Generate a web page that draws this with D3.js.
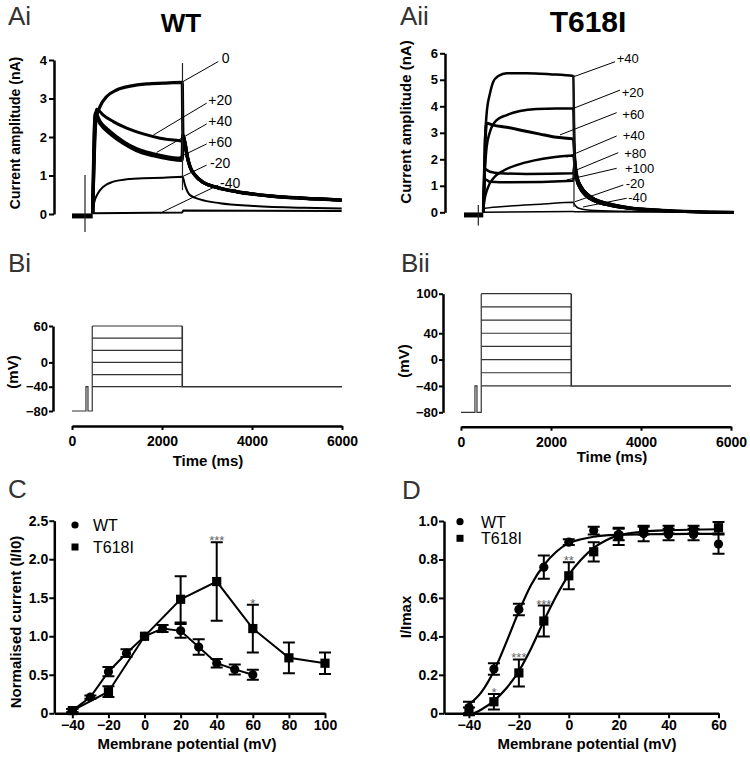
<!DOCTYPE html>
<html>
<head>
<meta charset="utf-8">
<script src="https://cdn.jsdelivr.net/npm/d3@7"></script>
<style>
body { margin: 0; background: #fff; }
svg { font-family: "Liberation Sans", Arial, sans-serif; }
</style>
</head>
<body>
<script>
// ---------------- data ----------------
// A: current traces, points are [time (ms), current (nA)]
var labelsAi = ["0", "+20", "+40", "+60", "-20", "-40"];
var tr0Ai   = [[460,0.02],[533,2.44],[622,2.79],[771,3.05],[993,3.22],[1289,3.32],[1660,3.38],[2029,3.40],[2450,3.42]];
var tr20Ai  = [[460,0.02],[530,2.62],[549,2.72],[584,2.70],[696,2.57],[918,2.40],[1215,2.23],[1585,2.08],[1956,1.97],[2400,1.90],[2450,1.89]];
var tr40Ai  = [[460,0.02],[520,2.62],[622,2.40],[844,2.14],[1140,1.88],[1437,1.69],[1807,1.56],[2178,1.47],[2450,1.44]];
var tr60Ai  = [[460,0.02],[515,2.55],[622,2.34],[844,2.08],[1140,1.83],[1437,1.64],[1807,1.51],[2178,1.42],[2450,1.39]];
var trm20Ai = [[460,0.02],[489,0.28],[578,0.54],[696,0.71],[918,0.84],[1215,0.90],[1585,0.93],[2029,0.94],[2450,0.97]];
var trm40Ai = [[460,0.02],[2450,0.04]];
var tailBigAi = [[2465,2.05],[2511,1.84],[2562,1.49],[2622,1.23],[2733,1.01],[2918,0.82],[3216,0.69],[3660,0.58],[4400,0.47],[5140,0.41],[5993,0.36]];
var tailMidAi = [[2465,0.95],[2511,0.75],[2622,0.49],[2844,0.38],[3289,0.28],[4029,0.21],[5140,0.16],[5993,0.14]];
var tailLowAi = [[2470,0.09],[5993,0.08]];
var holdAi = [[0,-0.05],[460,-0.05]];
var artAi = [[[289,1.01],[289,-0.47]], [[2455,3.92],[2455,0.62]]];
// label text position, pointer start, pointer end
var annTextAi = [[3327,3.91],[3029,2.83],[3029,2.29],[3029,1.75],[3067,1.19],[3289,0.67]];
var annFromAi = [[3251,3.96],[2993,2.88],[2993,2.34],[2993,1.82],[2993,1.27],[3251,0.75]];
var annToAi   = [[2438,3.42],[1807,2.05],[1882,1.60],[2251,1.40],[2400,0.94],[1956,0.02]];

var labelsAii = ["+40", "+20", "+60", "+40", "+80", "+100", "-20", "-40"];
var tr40Aii  = [[429,0],[467,2.73],[504,3.74],[578,4.49],[651,4.93],[762,5.14],[949,5.25],[1393,5.25],[1911,5.21],[2429,5.14]];
var tr20Aii  = [[429,0],[460,1.4],[504,2.48],[578,3.04],[726,3.48],[949,3.67],[1244,3.82],[1615,3.90],[2059,3.92],[2429,3.92]];
var tr60Aii  = [[429,0],[470,2.6],[504,3.36],[651,3.29],[949,3.21],[1318,3.08],[1689,2.95],[2059,2.83],[2429,2.77]];
var tr40bAii = [[429,0],[444,0.34],[540,0.97],[651,1.28],[874,1.57],[1170,1.78],[1540,1.95],[1985,2.08],[2429,2.14]];
var tr80Aii  = [[429,0],[467,1.62],[578,1.53],[800,1.47],[1393,1.45],[2429,1.47]];
var tr100Aii = [[429,0],[467,1.25],[578,1.15],[1022,1.13],[2429,1.19]];
var trm20Aii = [[429,0],[467,0.15],[1022,0.24],[1762,0.31],[2429,0.38]];
var trm40Aii = [[429,0],[2429,0.03]];
var tailHiAii = [[2455,2.2],[2480,1.7],[2520,1.3],[2600,0.98],[2720,0.72],[2900,0.5],[3200,0.33],[3650,0.18],[4400,0.08],[5100,0.03],[6000,0.0]];
var tailLoAii = [[2455,1.8],[2467,1.6],[2504,1.22],[2578,0.9],[2689,0.65],[2873,0.44],[3171,0.28],[3615,0.15],[4356,0.06],[5096,0.01],[6000,-0.01]];
var tailSmAii = [[2455,0.3],[2550,0.15],[2800,0.08],[3500,0.04],[6000,0.0]];
var tailFlatAii = [[2455,0.02],[6000,0.0]];
var holdAii = [[0,-0.1],[429,-0.1]];
var artAii = [[[318,0.28],[318,-0.5]], [[2444,5.18],[2444,0.2]]];
var annTextAii = [[3393,5.62],[3504,4.34],[3518,3.52],[3527,2.73],[3562,2.06],[3578,1.47],[3593,0.91],[3651,0.40]];
var annFromAii = [[3356,5.68],[3467,4.61],[3393,3.76],[3393,2.88],[3429,2.25],[3393,1.66],[3540,1.03],[3616,0.53]];
var annToAii   = [[2444,5.12],[2429,3.92],[2133,2.92],[2282,2.08],[2504,1.60],[2282,1.22],[2467,0.40],[2644,0.20]];

// B: voltage protocol (mV), times in ms
var stepsBi  = [-40, -20, 0, 20, 40, 60];
var stepsBii = [-40, -20, 0, 20, 40, 60, 80, 100];
var protoT = [0, 310, 355, 450, 2450, 6000]; // start, prepulse on, prepulse off, step on, step off, end
var holdV = -80, prepulseV = -40, tailV = -40;
var ticksBi = [60, 0, -40, -80];
var ticksBii = [100, 40, 0, -40, -80];
var ticksTime = [0, 2000, 4000, 6000];

// C: normalised current vs membrane potential
var vC_WT = [-40, -30, -20, -10, 0, 10, 20, 30, 40, 50, 60];
var iC_WT = [0.035, 0.21, 0.54, 0.78, 1.00, 1.10, 1.07, 0.86, 0.65, 0.57, 0.50];
var eC_WT = [0.02, 0.02, 0.06, 0.05, 0, 0.045, 0.09, 0.10, 0.055, 0.065, 0.065];
var vC_T = [-40, -20, 0, 20, 40, 60, 80, 100];
var iC_T = [0.035, 0.28, 1.00, 1.48, 1.71, 1.10, 0.72, 0.65];
var eC_T = [0.02, 0.07, 0, 0.30, 0.51, 0.31, 0.20, 0.14];
var starsC = [[40, "***"], [60, "*"]];

// D: activation, I/Imax
var vD = [-40, -30, -20, -10, 0, 10, 20, 30, 40, 50, 60];
var iD_WT = [0.03, 0.23, 0.54, 0.76, 0.89, 0.95, 0.93, 0.935, 0.93, 0.93, 0.88];
var eD_WT = [0.03, 0.03, 0.03, 0.06, 0.015, 0.02, 0.03, 0.04, 0.03, 0.03, 0.05];
var iD_T = [0.01, 0.06, 0.21, 0.48, 0.715, 0.84, 0.92, 0.95, 0.955, 0.955, 0.965];
var eD_T = [0.02, 0.04, 0.07, 0.08, 0.07, 0.05, 0.045, 0.02, 0.02, 0.02, 0.03];
var fitD_WT = [[-40,0.045],[-35,0.11],[-30,0.22],[-25,0.37],[-20,0.53],[-15,0.67],[-10,0.77],[-5,0.84],[0,0.885],[5,0.905],[10,0.918],[20,0.928],[30,0.931],[40,0.932],[60,0.933]];
var fitD_T = [[-38,0.0],[-35,0.02],[-30,0.065],[-25,0.13],[-20,0.22],[-15,0.34],[-10,0.48],[-5,0.61],[0,0.72],[5,0.80],[10,0.86],[15,0.90],[20,0.925],[30,0.945],[40,0.952],[60,0.957]];
var starsD = [[-30, "*"], [-20, "***"], [-10, "***"], [0, "**"]];

// ---------------- drawing ----------------
var svg = d3.select("body").append("svg")
  .attr("width", 750)
  .attr("height", 762);

function styleAxis(g, fs) {
  g.attr("font-family", null).attr("font-size", null);
  g.select(".domain").attr("stroke", "#000").attr("stroke-width", 2.5);
  g.selectAll(".tick line").attr("stroke", "#000").attr("stroke-width", 2);
  g.selectAll(".tick text")
    .attr("font-size", fs)
    .attr("font-weight", "bold")
    .attr("fill", "#000");
}

function panelLabel(txt, x, y) {
  svg.append("text").attr("x", x).attr("y", y)
    .attr("font-size", 26).attr("fill", "#333").text(txt);
}

function yTitle(txt, x, y, fs) {
  svg.append("text")
    .attr("transform", "translate(" + x + "," + y + ")rotate(-90)")
    .attr("text-anchor", "middle")
    .attr("font-size", fs).attr("font-weight", "bold")
    .text(txt);
}

function xTitle(txt, x, y, fs) {
  svg.append("text").attr("x", x).attr("y", y)
    .attr("text-anchor", "middle")
    .attr("font-size", fs).attr("font-weight", "bold")
    .text(txt);
}

// ---- panel A: traces ----
function tracePanel(x, y, traces, hold, arts, labels, annText, annFrom, annTo, fs) {
  var line = d3.line()
    .x(function(d) { return x(d[0]); })
    .y(function(d) { return y(d[1]); })
    .curve(d3.curveMonotoneX);
  var g = svg.append("g");
  g.append("path").datum(hold).attr("d", line)
    .attr("fill", "none").attr("stroke", "#000").attr("stroke-width", 5);
  traces.forEach(function(t) {
    g.append("path").datum(t.pts.concat(t.tail)).attr("d", line)
      .attr("fill", "none").attr("stroke", "#000")
      .attr("stroke-width", t.w).attr("stroke-linejoin", "round");
  });
  arts.forEach(function(a) {
    g.append("path").datum(a).attr("d", d3.line().x(function(d) { return x(d[0]); }).y(function(d) { return y(d[1]); }))
      .attr("stroke", "#222").attr("stroke-width", 1.2);
  });
  labels.forEach(function(l, i) {
    g.append("line")
      .attr("x1", x(annFrom[i][0])).attr("y1", y(annFrom[i][1]))
      .attr("x2", x(annTo[i][0])).attr("y2", y(annTo[i][1]))
      .attr("stroke", "#000").attr("stroke-width", 1);
    g.append("text")
      .attr("x", x(annText[i][0])).attr("y", y(annText[i][1]))
      .attr("font-size", fs).text(l);
  });
}

var xAi = d3.scaleLinear().domain([0, 6000]).range([72, 342]);
var yAi = d3.scaleLinear().domain([0, 4]).range([214, 60]);
tracePanel(xAi, yAi, [
  {pts: trm40Ai, tail: tailLowAi, w: 2},
  {pts: trm20Ai, tail: tailMidAi, w: 2},
  {pts: tr60Ai, tail: tailBigAi, w: 3},
  {pts: tr40Ai, tail: tailBigAi, w: 3.5},
  {pts: tr20Ai, tail: tailBigAi, w: 3},
  {pts: tr0Ai, tail: tailBigAi, w: 3.2}
], holdAi, artAi, labelsAi, annTextAi, annFromAi, annToAi, 14);
svg.append("g").attr("transform", "translate(54,0)")
  .call(d3.axisLeft(yAi).tickValues([0, 1, 2, 3, 4]).tickFormat(d3.format("d")).tickSize(5).tickSizeOuter(0).tickPadding(2))
  .call(styleAxis, 13);
yTitle("Current amplitude (nA)", 20, 133, 14);

var xAii = d3.scaleLinear().domain([0, 6000]).range([464, 734]);
var yAii = d3.scaleLinear().domain([0, 6]).range([212.3, 53.3]);
tracePanel(xAii, yAii, [
  {pts: trm40Aii, tail: tailFlatAii, w: 1.5},
  {pts: trm20Aii, tail: tailSmAii, w: 1.5},
  {pts: tr100Aii, tail: tailLoAii, w: 2.5},
  {pts: tr80Aii, tail: tailLoAii, w: 2.5},
  {pts: tr40bAii, tail: tailLoAii, w: 2.5},
  {pts: tr60Aii, tail: tailHiAii, w: 3},
  {pts: tr20Aii, tail: tailHiAii, w: 2.5},
  {pts: tr40Aii, tail: tailHiAii, w: 2.5}
], holdAii, artAii, labelsAii, annTextAii, annFromAii, annToAii, 13);
svg.append("g").attr("transform", "translate(445,0)")
  .call(d3.axisLeft(yAii).tickValues([0, 1, 2, 3, 4, 5, 6]).tickFormat(d3.format("d")).tickSize(5).tickSizeOuter(0).tickPadding(2))
  .call(styleAxis, 13);
yTitle("Current amplitude (nA)", 411, 122, 15);

panelLabel("Ai", 8, 25);
panelLabel("Aii", 400, 25);
svg.append("text").attr("x", 181).attr("y", 32).attr("text-anchor", "middle")
  .attr("font-size", 26).attr("font-weight", "bold").text("WT");
svg.append("text").attr("x", 588).attr("y", 32).attr("text-anchor", "middle")
  .attr("font-size", 30).attr("font-weight", "bold").text("T618I");

// ---- panel B: protocol ----
function protoPanel(x, y, steps, ticks, axisX, xAxisY) {
  var line = d3.line().x(function(d) { return x(d[0]); }).y(function(d) { return y(d[1]); });
  var top = d3.max(steps);
  var g = svg.append("g").attr("fill", "none").attr("stroke", "#333").attr("stroke-width", 1.2);
  g.append("path").datum([
    [protoT[0], holdV], [protoT[1], holdV], [protoT[1], prepulseV], [protoT[2], prepulseV],
    [protoT[2], holdV], [protoT[3], holdV], [protoT[3], top]
  ]).attr("d", line);
  steps.forEach(function(v) {
    g.append("path").datum([[protoT[3], v], [protoT[4], v]]).attr("d", line);
  });
  g.append("path").datum([[protoT[4], top], [protoT[4], tailV], [protoT[5], tailV]])
    .attr("d", line).attr("stroke-width", 1.6);

  svg.append("g").attr("transform", "translate(" + axisX + ",0)")
    .call(d3.axisLeft(y).tickValues(ticks).tickFormat(d3.format("d")).tickSize(4).tickSizeOuter(0).tickPadding(1))
    .call(styleAxis, 13);
  svg.append("g").attr("transform", "translate(0," + xAxisY + ")")
    .call(d3.axisBottom(x).tickValues(ticksTime).tickFormat(d3.format("d")).tickSize(4).tickSizeOuter(0).tickPadding(6))
    .call(styleAxis, 14);
}

var xBi = d3.scaleLinear().domain([0, 6000]).range([72, 342]);
var yBi = d3.scaleLinear().domain([-80, 60]).range([411, 326]);
protoPanel(xBi, yBi, stepsBi, ticksBi, 53, 426);
yTitle("(mV)", 18, 372, 15);
xTitle("Time (ms)", 208, 466, 15);
panelLabel("Bi", 8, 272);

var xBii = d3.scaleLinear().domain([0, 6000]).range([461, 731]);
var yBii = d3.scaleLinear().domain([-80, 100]).range([412.3, 293.7]);
protoPanel(xBii, yBii, stepsBii, ticksBii, 443, 426.7);
yTitle("(mV)", 409, 361, 15);
xTitle("Time (ms)", 612, 462, 15);
panelLabel("Bii", 401, 272);

// ---- panels C and D: summary plots ----
function drawSeries(g, x, y, vs, is, es, shape, connect) {
  if (connect) {
    g.append("path").datum(vs.map(function(v, i) { return [v, is[i]]; }))
      .attr("d", d3.line().x(function(d) { return x(d[0]); }).y(function(d) { return y(d[1]); }))
      .attr("fill", "none").attr("stroke", "#000").attr("stroke-width", 2);
  }
  vs.forEach(function(v, i) {
    if (es[i] > 0) {
      var cx = x(v), y1 = y(is[i] + es[i]), y2 = y(is[i] - es[i]);
      g.append("path")
        .attr("d", "M" + cx + "," + y1 + "V" + y2 + "M" + (cx - 6) + "," + y1 + "H" + (cx + 6) + "M" + (cx - 6) + "," + y2 + "H" + (cx + 6))
        .attr("stroke", "#000").attr("stroke-width", 2).attr("fill", "none");
    }
  });
  vs.forEach(function(v, i) {
    if (shape === "circle") {
      g.append("circle").attr("cx", x(v)).attr("cy", y(is[i])).attr("r", 4.6).attr("fill", "#000");
    } else {
      g.append("rect").attr("x", x(v) - 4.6).attr("y", y(is[i]) - 4.6)
        .attr("width", 9.2).attr("height", 9.2).attr("fill", "#000");
    }
  });
}

function legend(x, y1, y2, tx) {
  svg.append("circle").attr("cx", x).attr("cy", y1).attr("r", 3.6).attr("fill", "#000");
  svg.append("rect").attr("x", x - 3.5).attr("y", y2 - 3.5).attr("width", 7).attr("height", 7).attr("fill", "#000");
  svg.append("text").attr("x", tx).attr("y", y1 + 6).attr("font-size", 16).text("WT");
  svg.append("text").attr("x", tx).attr("y", y2 + 6).attr("font-size", 16).text("T618I");
}

function stars(g, x, y, list, vs, is, es) {
  list.forEach(function(s) {
    var i = vs.indexOf(s[0]);
    g.append("text").attr("x", x(s[0])).attr("y", y(is[i] + es[i]) + 3)
      .attr("text-anchor", "middle").attr("font-size", 13).attr("fill", "#666").text(s[1]);
  });
}

// C
var xC = d3.scaleLinear().domain([-50, 100]).range([54.3, 325]);
var yC = d3.scaleLinear().domain([0, 2.5]).range([713.3, 520.7]);
var gC = svg.append("g");
drawSeries(gC, xC, yC, vC_WT, iC_WT, eC_WT, "circle", true);
drawSeries(gC, xC, yC, vC_T, iC_T, eC_T, "square", true);
stars(gC, xC, yC, starsC, vC_T, iC_T, eC_T);
svg.append("g").attr("transform", "translate(54.3,0)")
  .call(d3.axisLeft(yC).tickValues([0, 0.5, 1, 1.5, 2, 2.5])
    .tickFormat(function(d) { return d === 0 ? "0" : d3.format(".1f")(d); })
    .tickSize(5).tickSizeOuter(0).tickPadding(1))
  .call(styleAxis, 14);
svg.append("g").attr("transform", "translate(0,713.3)")
  .call(d3.axisBottom(xC).tickValues([-40, -20, 0, 20, 40, 60, 80, 100]).tickSize(5).tickSizeOuter(0).tickPadding(2))
  .call(styleAxis, 14);
yTitle("Normalised current (I/I0)", 21, 622, 15);
xTitle("Membrane potential (mV)", 187, 749, 15);
legend(75, 525, 547, 93);
panelLabel("C", 8, 498);

// D
var xD = d3.scaleLinear().domain([-50, 60]).range([444, 718.5]);
var yD = d3.scaleLinear().domain([0, 1]).range([713.3, 521]);
var gD = svg.append("g");
var fitLine = d3.line().x(function(d) { return xD(d[0]); }).y(function(d) { return yD(d[1]); }).curve(d3.curveMonotoneX);
gD.append("path").datum(fitD_WT).attr("d", fitLine).attr("fill", "none").attr("stroke", "#000").attr("stroke-width", 2.2);
gD.append("path").datum(fitD_T).attr("d", fitLine).attr("fill", "none").attr("stroke", "#000").attr("stroke-width", 2.2);
drawSeries(gD, xD, yD, vD, iD_WT, eD_WT, "circle", false);
drawSeries(gD, xD, yD, vD, iD_T, eD_T, "square", false);
stars(gD, xD, yD, starsD, vD, iD_T, eD_T);
svg.append("g").attr("transform", "translate(444,0)")
  .call(d3.axisLeft(yD).tickValues([0, 0.2, 0.4, 0.6, 0.8, 1.0])
    .tickFormat(function(d) { return d === 0 ? "0" : d3.format(".1f")(d); })
    .tickSize(5).tickSizeOuter(0).tickPadding(1))
  .call(styleAxis, 14);
svg.append("g").attr("transform", "translate(0,713.3)")
  .call(d3.axisBottom(xD).tickValues([-40, -20, 0, 20, 40, 60]).tickSize(5).tickSizeOuter(0).tickPadding(2))
  .call(styleAxis, 14);
yTitle("I/Imax", 411, 617, 15);
xTitle("Membrane potential (mV)", 587, 749, 15);
legend(460, 521.7, 538.3, 481);
panelLabel("D", 402, 499);
</script>
</body>
</html>
